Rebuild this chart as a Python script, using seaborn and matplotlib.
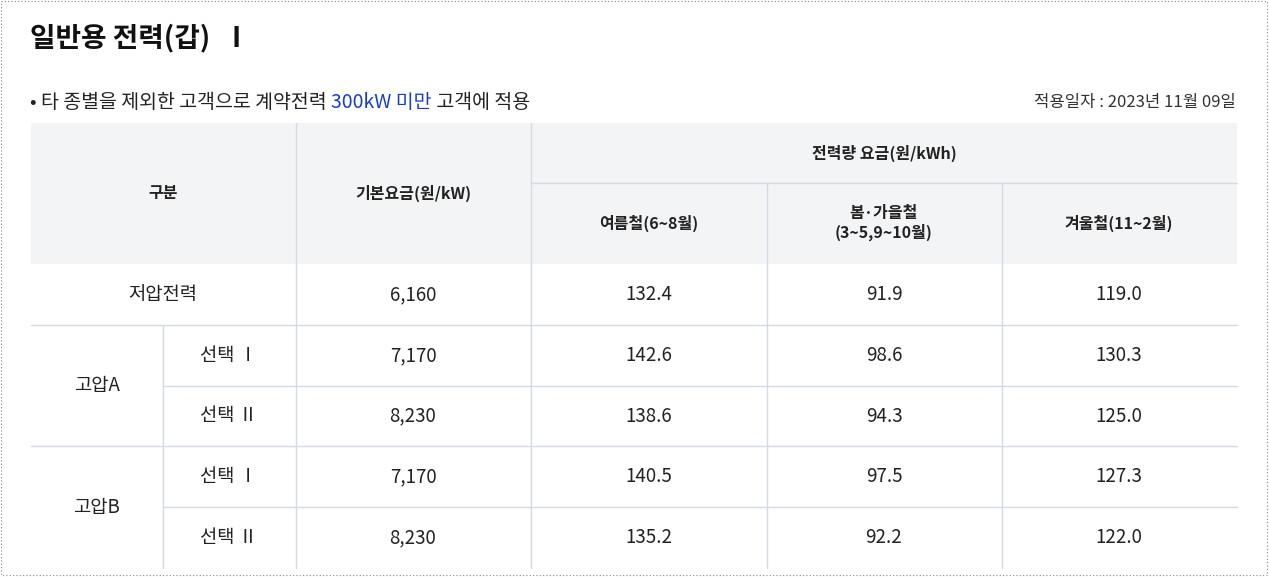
import matplotlib
matplotlib.use("Agg")
import matplotlib.pyplot as plt
import seaborn as sns
from matplotlib.patches import Rectangle

sns.set_theme(style="white")
plt.rcParams['font.family'] = ['Noto Sans CJK KR', 'DejaVu Sans']

title = "일반용 전력(갑) Ⅰ"
date_text = "적용일자 : 2023년 11월 09일"
groups = ["저압전력", "고압A", "고압A", "고압B", "고압B"]
options = ["", "선택 Ⅰ", "선택 Ⅱ", "선택 Ⅰ", "선택 Ⅱ"]
base_fee = ["6,160", "7,170", "8,230", "7,170", "8,230"]
summer = ["132.4", "142.6", "138.6", "140.5", "135.2"]
spring_fall = ["91.9", "98.6", "94.3", "97.5", "92.2"]
winter = ["119.0", "130.3", "125.0", "127.3", "122.0"]

W, H = 1269, 577
fig = plt.figure(figsize=(W/100, H/100), dpi=100)
ax = fig.add_axes([0, 0, 1, 1])
ax.set_xlim(0, W); ax.set_ylim(H, 0); ax.axis('off')

ax.add_patch(Rectangle((1, 1), W-3, H-3, fill=False, ec='#888888', ls=(0, (1, 2)), lw=0.8))
ax.text(30, 38, "일반용 전력(갑)  Ⅰ", fontsize=20, fontweight='bold', va='center', color='#111111')
t1 = ax.text(30, 103, "• 타 종별을 제외한 고객으로 계약전력 ", fontsize=14, va='center', color='#222222')
t2 = ax.annotate("300kW 미만", xy=(1, 0.5), xycoords=t1, va='center', fontsize=14, color='#1a3fc4')
ax.annotate(" 고객에 적용", xy=(1, 0.5), xycoords=t2, va='center', fontsize=14, color='#222222')
ax.text(1236, 103, date_text, fontsize=12, va='center', ha='right', color='#333333')

xs = [31, 163, 296, 531, 767, 1002, 1237]
hy0, hy1, hy2 = 123, 183, 264
rows = [264, 325, 386, 446, 507, 568]
lc = '#d3dae5'
ax.add_patch(Rectangle((31, hy0), 1206, hy2-hy0, color='#f3f4f6', lw=0))
ax.plot([531, 1237], [hy1, hy1], color=lc, lw=1)
for x in [296, 531]:
    ax.plot([x, x], [hy0, rows[-1]], color=lc, lw=1)
for x in [767, 1002]:
    ax.plot([x, x], [hy1, rows[-1]], color=lc, lw=1)
ax.plot([163, 163], [rows[1], rows[-1]], color=lc, lw=1)
for i, y in enumerate(rows[1:-1]):
    x0 = 163 if i in (1, 3) else 31
    ax.plot([x0, 1237], [y, y], color=lc, lw=1)

hk = dict(fontsize=11.5, fontweight='bold', ha='center', va='center', color='#222222')
ax.text(163, 193, "구분", **hk)
ax.text(413, 193, "기본요금(원/kW)", **hk)
ax.text(884, 153, "전력량 요금(원/kWh)", **hk)
ax.text(649, 223, "여름철(6~8월)", **hk)
ax.text(884, 223, "봄·가을철\n(3~5,9~10월)", linespacing=1.15, **hk)
ax.text(1119, 223, "겨울철(11~2월)", **hk)

vk = dict(fontsize=13.5, ha='center', va='center', color='#222222')
for i in range(5):
    yc = (rows[i] + rows[i+1]) / 2
    if i == 0:
        ax.text(163, yc, groups[i], **vk)
    else:
        ax.text(229, yc, options[i], **vk)
        if i in (1, 3):
            ax.text(97, rows[i+1], groups[i], **vk)
    for x, col in zip([413, 649, 884, 1119], [base_fee, summer, spring_fall, winter]):
        ax.text(x, yc, col[i], **vk)

fig.savefig("out.png", dpi=100, facecolor='white')
